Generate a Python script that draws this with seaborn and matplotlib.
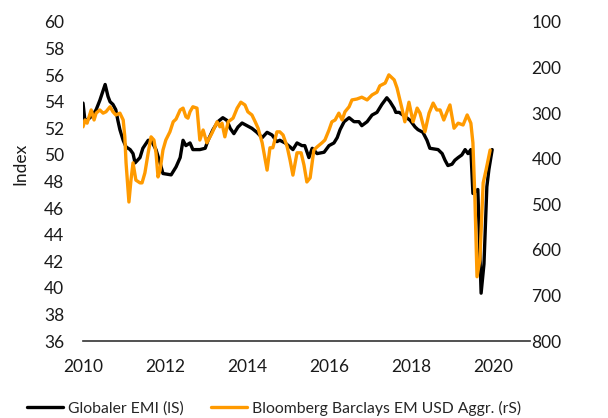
import numpy as np
import pandas as pd
import matplotlib
matplotlib.use("Agg")
import matplotlib.pyplot as plt
from matplotlib.lines import Line2D
import seaborn as sns

# ---- data ----
emi_x = [2010.00, 2010.05, 2010.17, 2010.24, 2010.32, 2010.41, 2010.54, 2010.61, 2010.66, 2010.73,
         2010.80, 2010.85, 2010.90, 2010.98, 2011.05, 2011.15, 2011.22, 2011.27, 2011.39, 2011.46,
         2011.59, 2011.66, 2011.78, 2011.88, 2011.95, 2012.15, 2012.27, 2012.37, 2012.44, 2012.51,
         2012.61, 2012.68, 2012.85, 2012.98, 2013.05, 2013.17, 2013.29, 2013.41, 2013.51, 2013.59,
         2013.68, 2013.78, 2013.88, 2014.00, 2014.12, 2014.24, 2014.37, 2014.49, 2014.61, 2014.73,
         2014.80, 2014.93, 2015.05, 2015.12, 2015.22, 2015.34, 2015.41, 2015.51, 2015.59, 2015.71,
         2015.88, 2016.00, 2016.12, 2016.20, 2016.27, 2016.37, 2016.49, 2016.61, 2016.73, 2016.80,
         2016.93, 2017.05, 2017.17, 2017.29, 2017.41, 2017.49, 2017.59, 2017.63, 2017.71, 2017.85,
         2017.98, 2018.10, 2018.17, 2018.29, 2018.39, 2018.46, 2018.66, 2018.76, 2018.83, 2018.90,
         2019.00, 2019.07, 2019.15, 2019.24, 2019.32, 2019.39, 2019.46, 2019.51, 2019.63, 2019.71,
         2019.78, 2019.85, 2019.90, 2019.98]
emi_y = [53.9, 52.5, 52.8, 53.0, 53.4, 54.1, 55.3, 54.4, 54.0, 53.8,
         53.4, 52.6, 51.9, 51.1, 50.6, 50.4, 50.1, 49.4, 49.8, 50.5,
         51.1, 51.1, 50.4, 49.4, 48.6, 48.5, 49.1, 49.8, 51.1, 50.7,
         50.9, 50.4, 50.4, 50.5, 51.1, 51.9, 52.5, 52.8, 52.6, 52.0,
         51.6, 52.1, 52.4, 52.2, 52.0, 51.7, 51.3, 51.7, 51.5, 51.0,
         51.1, 50.9, 50.6, 50.4, 50.9, 50.7, 50.7, 49.8, 50.5, 50.1,
         50.2, 50.7, 50.9, 51.3, 51.9, 52.5, 52.8, 52.5, 52.5, 52.2,
         52.5, 53.0, 53.2, 53.8, 54.3, 54.0, 53.5, 53.2, 53.2, 52.9,
         52.6, 52.1, 51.9, 51.7, 51.1, 50.5, 50.4, 50.1, 49.6, 49.2,
         49.3, 49.6, 49.8, 50.0, 50.4, 50.1, 50.4, 47.1, 47.4, 39.6,
         41.8, 47.6, 48.9, 50.4]

bond_x = [2010.00, 2010.05, 2010.10, 2010.20, 2010.27, 2010.32, 2010.41, 2010.49, 2010.56, 2010.66,
          2010.73, 2010.80, 2010.90, 2010.98, 2011.02, 2011.05, 2011.12, 2011.17, 2011.22, 2011.29,
          2011.39, 2011.44, 2011.51, 2011.59, 2011.66, 2011.73, 2011.78, 2011.83, 2011.88, 2011.95,
          2012.02, 2012.12, 2012.20, 2012.27, 2012.37, 2012.44, 2012.51, 2012.56, 2012.61, 2012.68,
          2012.78, 2012.85, 2012.93, 2013.02, 2013.15, 2013.27, 2013.34, 2013.39, 2013.46, 2013.54,
          2013.66, 2013.76, 2013.85, 2013.95, 2014.02, 2014.12, 2014.20, 2014.27, 2014.37, 2014.49,
          2014.56, 2014.63, 2014.73, 2014.80, 2014.88, 2014.98, 2015.05, 2015.12, 2015.22, 2015.32,
          2015.39, 2015.46, 2015.54, 2015.63, 2015.71, 2015.83, 2015.90, 2016.00, 2016.07, 2016.15,
          2016.24, 2016.32, 2016.39, 2016.49, 2016.56, 2016.68, 2016.80, 2016.93, 2017.05, 2017.17,
          2017.24, 2017.37, 2017.46, 2017.59, 2017.66, 2017.78, 2017.85, 2017.95, 2018.05, 2018.15,
          2018.22, 2018.34, 2018.44, 2018.54, 2018.63, 2018.71, 2018.80, 2018.88, 2018.95, 2019.05,
          2019.15, 2019.27, 2019.37, 2019.46, 2019.51, 2019.56, 2019.61, 2019.68, 2019.76, 2019.83,
          2019.93]
bond_y = [330, 315, 322, 293, 315, 300, 293, 300, 297, 286,
          297, 304, 300, 315, 352, 409, 495, 447, 409, 447,
          453, 453, 431, 387, 352, 359, 387, 440, 425, 381,
          359, 341, 319, 313, 293, 289, 308, 311, 297, 286,
          289, 359, 337, 365, 343, 319, 330, 322, 352, 319,
          311, 289, 276, 282, 297, 304, 319, 333, 365, 425,
          376, 376, 341, 341, 348, 374, 403, 436, 387, 387,
          414, 451, 442, 381, 374, 365, 359, 337, 319, 315,
          300, 315, 297, 286, 271, 269, 265, 271, 260, 254,
          240, 234, 216, 227, 245, 290, 319, 276, 319, 289,
          300, 341, 300, 278, 293, 293, 315, 297, 282, 333,
          322, 326, 304, 322, 365, 491, 659, 622, 453, 425,
          381]

year_ticks = [2010, 2012, 2014, 2016, 2018, 2020]
left_ticks = list(range(36, 61, 2))
right_ticks = list(range(100, 801, 100))

label_emi = "Globaler EMI (lS)"
label_bond = "Bloomberg Barclays EM USD Aggr. (rS)"
ylabel_left = "Index"

emi = pd.DataFrame({"year": emi_x, "value": emi_y})
bond = pd.DataFrame({"year": bond_x, "value": bond_y})

# ---- style ----
sns.set_style("white")
plt.rcParams["font.family"] = ["Lato", "DejaVu Sans"]
FS = 12.5
LFS = 11.3
BLACK = "#000000"
ORANGE = "#FF9A00"

fig = plt.figure(figsize=(6.08, 4.18), dpi=100)
W, H = 608, 418
ax = fig.add_axes([83 / W, 1 - 341 / H, (530 - 83) / W, (341 - 22) / H])
ax2 = ax.twinx()

sns.lineplot(data=emi, x="year", y="value", ax=ax, color=BLACK, linewidth=2.4,
             estimator=None, sort=False, legend=False)
sns.lineplot(data=bond, x="year", y="value", ax=ax2, color=ORANGE, linewidth=2.4,
             estimator=None, sort=False, legend=False)

ax.set_xlim(2010, 2010 + (530 - 83) / 41)
ax.set_ylim(36, 60)
ax2.set_ylim(800, 100)

ax.set_xticks(year_ticks)
ax.set_xticklabels([str(y) for y in year_ticks], fontsize=FS, color="#1a1a1a")
ax.set_yticks(left_ticks)
ax.set_yticklabels([str(v) for v in left_ticks], fontsize=FS, color="#1a1a1a")
ax2.set_yticks(right_ticks)
ax2.set_yticklabels([str(v) for v in right_ticks], fontsize=FS, color="#1a1a1a")

ax.tick_params(axis="x", direction="out", length=3.6, width=1.0, color="#333333", pad=9)
ax.tick_params(axis="y", length=0, pad=13.5)
ax2.tick_params(axis="y", length=0, pad=1)

for a in (ax, ax2):
    for s in ("top", "left", "right", "bottom"):
        a.spines[s].set_visible(False)
    a.grid(False)
    a.set_xlabel("")
    a.set_ylabel("")
ax.spines["bottom"].set_visible(True)
ax.spines["bottom"].set_color("#333333")
ax.spines["bottom"].set_linewidth(1.2)
ax.set_zorder(1)
ax2.set_zorder(2)
ax.patch.set_visible(False)
ax2.patch.set_visible(False)

fig.text(20 / W, 1 - 164 / H, ylabel_left, rotation=90, fontsize=FS,
         ha="center", va="center", color="#1a1a1a")

handles = [Line2D([], [], color=BLACK, linewidth=2.4),
           Line2D([], [], color=ORANGE, linewidth=2.4)]
fig.legend(handles, [label_emi, label_bond], loc="center left",
           bbox_to_anchor=(27 / W, 1 - 408 / H), ncol=2, frameon=False,
           fontsize=LFS, handlelength=2.3, handletextpad=0.32, columnspacing=1.7,
           borderpad=0, borderaxespad=0)

fig.savefig("out.png", dpi=100)
